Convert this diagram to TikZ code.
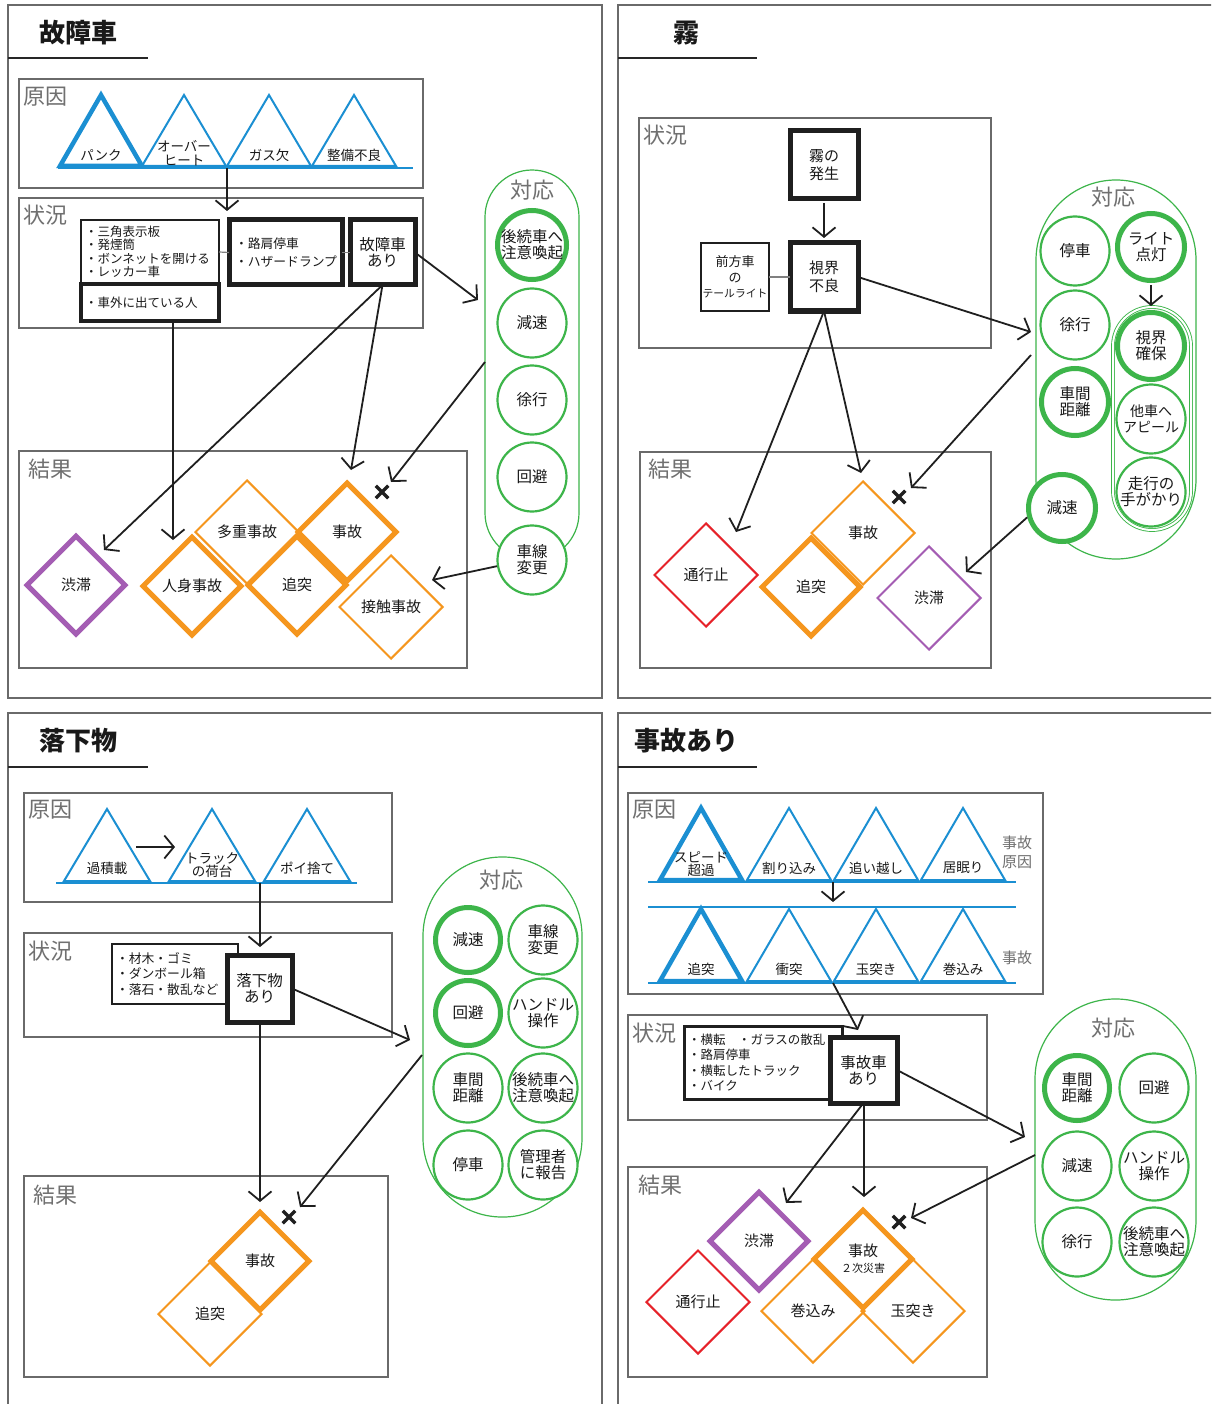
\documentclass[tikz,border=0pt]{standalone}
\usepackage{fontspec}
\setmainfont{Noto Sans CJK JP}
\usetikzlibrary{arrows.meta,shapes.geometric,shapes.misc,fit}

\definecolor{cblue}{HTML}{1B8FD2}
\definecolor{corange}{HTML}{F5961E}
\definecolor{cpurple}{HTML}{A45DB3}
\definecolor{cred}{HTML}{E62229}
\definecolor{cgreen}{HTML}{3DB54A}
\definecolor{cgrey}{HTML}{707070}
\definecolor{cframe}{HTML}{6A6A6A}

\newcommand{\jfs}[2]{\fontsize{#1}{#2}\selectfont}
% a blue "mountain" triangle: style, base centre x, base y, half width, height
\newcommand{\mountain}[5]{\draw[#1] (#2,#3) ++(-#4,0) -- ++(#4,-#5) -- ++(#4,#5) -- cycle;}

\tikzset{
  frame/.style={draw=cframe, line width=1.5},
  titlerule/.style={draw=black!85, line width=2},
  paneltitle/.style={font=\bfseries\jfs{26}{26}, text=black!90, inner sep=0},
  secbox/.style={draw=cframe, line width=1.2, inner sep=0},
  seclab/.style={font=\jfs{22}{22}, text=cgrey, inner sep=0},
  mount/.style={draw=cblue, line width=2, line join=miter},
  mountb/.style={draw=cblue, line width=4.5, line join=miter},
  ground/.style={draw=cblue, line width=2.5},
  mlab/.style={font=\jfs{13.5}{13.5}, align=center, inner sep=0, text=black!90},
  stbox/.style={draw=black!88, line width=2.5, inner sep=0, outer sep=0, align=left, fill=white, text=black!90},
  stboxb/.style={stbox, line width=5},
  link/.style={draw=gray, line width=1.2},
  resp/.style={circle, draw=cgreen, fill=white, line width=2.2, minimum size=69, inner sep=0, align=center, font=\jfs{15.5}{16}, text=black!90},
  respb/.style={resp, line width=5, minimum size=65},
  pill/.style={draw=cgreen, line width=1.2},
  res/.style={diamond, aspect=1, minimum size=104, inner sep=0, line width=2, align=center, font=\jfs{15}{16}, text=black!90},
  resb/.style={res, minimum size=100, line width=5},
  arr/.style={draw=black!88, line width=1.8, -{Straight Barb[length=9.5pt,width=23pt]}},
  nogo/.style={cross out, draw=black!88, line width=3.5, minimum size=9, inner sep=0},
}

\begin{document}
\begin{tikzpicture}[x=1pt,y=-1pt]
\path[use as bounding box] (0,0) rectangle (1211,1404);
\clip (0,0) rectangle (1211,1404);
\fill[white] (0,0) rectangle (1211,1404);

% ================= panel 1: broken-down vehicle =================
\draw[frame] (8,5) rectangle (602,698);
\node[paneltitle] (t1) at (78,33) {故障車};
\draw[titlerule] (8,58) -- (148,58);

\node[secbox, fit={(19,79) (423,188)}] (cause1) {};
\node[seclab] (cause1lab) at (45,97) {原因};
\mountain{mountb}{101}{166}{41}{71}
\mountain{mount}{184}{166}{42}{71}
\mountain{mount}{269}{166}{42}{71}
\mountain{mount}{354}{166}{42}{71}
\draw[ground] (58,168) -- (413,168);
\node[mlab] (m1a) at (101,155) {パンク};
\node[mlab] (m1b) at (184,153) {オーバー\\ヒート};
\node[mlab] (m1c) at (269,155) {ガス欠};
\node[mlab] (m1d) at (354,155) {整備不良};

\node[secbox, fit={(19,198) (423,328)}] (sit1) {};
\node[seclab] (sit1lab) at (45,215) {状況};
\node[stbox, anchor=north west, minimum width=138, minimum height=64, text width=130, font=\jfs{12.5}{13.5}] (boxA) at (81,220) {・三角表示板\\・発煙筒\\・ボンネットを開ける\\・レッカー車};
\node[stbox, line width=4.5, anchor=north west, minimum width=138, minimum height=37, text width=130, font=\jfs{12.5}{13.5}] (boxB) at (81,284) {・車外に出ている人};
\node[stboxb, anchor=north west, minimum width=113, minimum height=65, text width=101, font=\jfs{12.8}{18}] (boxC) at (229,220) {・路肩停車\\・ハザードランプ};
\node[stboxb, anchor=north west, minimum width=65, minimum height=65, align=center, font=\jfs{15.5}{16}] (boxD) at (350,220) {故障車\\あり};
\draw[link] (boxA.east) -- (boxC.west);
\draw[link] (boxC.east) -- (boxD.west);
\coordinate (c1out) at (227,168);
\coordinate (c1in) at (227,211);
\draw[arr] (c1out) -- (c1in);

\node[secbox, fit={(19,451) (467,668)}] (res1) {};
\node[seclab] (res1lab) at (50,469) {結果};

% responses
\draw[pill, rounded corners=47] (485,170) rectangle (579,560);
\node[seclab] (resp1lab) at (532,190) {対応};
\node[respb] (warn1) at (532,245) {後続車へ\\注意喚起};
\node[resp] (slow1) at (532,323) {減速};
\node[resp] (crawl1) at (532,400) {徐行};
\node[resp] (avoid1) at (532,477) {回避};
\node[resp] (lane1) at (532,560) {車線\\変更};

% results
\node[res, draw=corange] (multi1) at (247,532) {多重事故};
\node[res, draw=corange] (contact1) at (391,607) {接触事故};
\node[resb, draw=corange] (injury1) at (192,586) {人身事故};
\node[resb, draw=corange] (rear1) at (297,585) {追突};
\node[resb, draw=corange] (acc1) at (347,532) {事故};
\node[resb, draw=cpurple] (jam1) at (76,585) {渋滞};

\coordinate (p1in) at (478,300);
\draw[arr] (boxD.east) -- (p1in);
\coordinate (r1a) at (104,550);
\draw[arr] (boxD.south) -- (r1a);
\coordinate (r1b) at (351,470);
\draw[arr] (boxD.south) -- (r1b);
\coordinate (r1c) at (173,540);
\draw[arr] (boxB.south -| r1c) -- (r1c);
\coordinate (p1out) at (485,362);
\coordinate (r1d) at (391,482);
\draw[arr] (p1out) -- (r1d);
\node[nogo] (x1) at (382,492) {};
\coordinate (r1e) at (432,580);
\draw[arr] (lane1.190) -- (r1e);

% ================= panel 2: fog =================
\draw[frame] (618,5) rectangle (1230,698);
\node[paneltitle] (t2) at (686,33) {霧};
\draw[titlerule] (618,58) -- (757,58);

\node[secbox, fit={(639,118) (991,348)}] (sit2) {};
\node[seclab] (sit2lab) at (665,135) {状況};
\node[stboxb, minimum size=68, align=center, font=\jfs{15}{18}] (fog2) at (824,165) {霧の\\発生};
\node[stboxb, minimum size=68, align=center, font=\jfs{15}{18}] (vis2) at (824,277) {視界\\不良};
\node[stbox, line width=2, minimum size=68, align=center, font=\jfs{13}{15.5}] (tail2) at (735,277) {前方車\\の\\\jfs{10.8}{15.5}テールライト};
\draw[link] (tail2.east) -- (vis2.west);
\draw[arr, shorten <=4pt, shorten >=5pt] (fog2) -- (vis2);

\node[secbox, fit={(640,452) (991,668)}] (res2) {};
\node[seclab] (res2lab) at (670,469) {結果};

\draw[pill, rounded corners=80] (1036,180) rectangle (1196,559);
\node[seclab] (resp2lab) at (1113,197) {対応};
\draw[pill, double, double distance=2, line width=0.9, rounded corners=39] (1113,307) rectangle (1191,530);
\node[resp] (stop2) at (1075,251) {停車};
\node[respb, minimum size=67] (light2) at (1151,247) {ライト\\点灯};
\node[resp] (crawl2) at (1075,325) {徐行};
\node[respb, minimum size=67] (sight2) at (1151,346) {視界\\確保};
\node[respb, minimum size=67] (gap2) at (1075,402) {車間\\距離};
\node[resp, font=\jfs{14}{16}] (appeal2) at (1151,419) {他車へ\\アピール};
\node[resp] (cue2) at (1151,492) {走行の\\手がかり};
\node[respb, minimum size=67] (slow2) at (1062,508) {減速};
\draw[arr, shorten <=2pt, shorten >=4pt] (light2) -- (sight2);

\node[res, draw=cred] (closed2) at (706,575) {通行止};
\node[res, draw=corange] (acc2) at (863,533) {事故};
\node[res, draw=cpurple] (jam2) at (929,598) {渋滞};
\node[resb, draw=corange] (rear2) at (811,587) {追突};

\coordinate (p2in) at (1031,332);
\draw[arr] (vis2.east) -- (p2in);
\coordinate (r2a) at (736,532);
\draw[arr] (vis2.south) -- (r2a);
\coordinate (r2b) at (861,473);
\draw[arr] (vis2.south) -- (r2b);
\coordinate (p2out) at (1031,355);
\coordinate (r2c) at (911,488);
\draw[arr] (p2out) -- (r2c);
\node[nogo] (x2) at (899,497) {};
\coordinate (r2d) at (966,572);
\draw[arr] (slow2.195) -- (r2d);

% ================= panel 3: fallen objects =================
\draw[frame] (8,713) rectangle (602,1420);
\node[paneltitle] (t3) at (78,741) {落下物};
\draw[titlerule] (8,767) -- (148,767);

\node[secbox, fit={(24,793) (392,902)}] (cause3) {};
\node[seclab] (cause3lab) at (50,810) {原因};
\mountain{mount}{107}{881}{43}{72}
\mountain{mount}{212}{881}{43}{72}
\mountain{mount}{307}{881}{43}{72}
\draw[ground] (56,883) -- (357,883);
\node[mlab] (m3a) at (107,868) {過積載};
\node[mlab] (m3b) at (212,865) {トラック\\の荷台};
\node[mlab] (m3c) at (307,868) {ポイ捨て};
\coordinate (m3aout) at (136,847);
\coordinate (m3bin) at (175,847);
\draw[arr] (m3aout) -- (m3bin);

\node[secbox, fit={(24,933) (392,1037)}] (sit3) {};
\node[seclab] (sit3lab) at (50,951) {状況};
\node[stbox, anchor=north west, minimum width=126, minimum height=60, text width=118, font=\jfs{12.8}{15.5}] (list3) at (112,944) {・材木・ゴミ\\・ダンボール箱\\・落石・散乱など};
\node[stboxb, anchor=north west, minimum width=65, minimum height=67, align=center, font=\jfs{15.5}{16}] (fall3) at (227,955) {落下物\\あり};
\coordinate (c3out) at (260,883);
\draw[arr, shorten >=8pt] (c3out) -- (c3out |- fall3.north);

\node[secbox, fit={(24,1176) (388,1377)}] (res3) {};
\node[seclab] (res3lab) at (55,1195) {結果};
\node[res, draw=corange] (rear3) at (210,1314) {追突};
\node[resb, draw=corange] (acc3) at (260,1261) {事故};

\draw[pill, rounded corners=79] (423,857) rectangle (582,1217);
\node[seclab] (resp3lab) at (501,880) {対応};
\node[respb] (slow3) at (468,940) {減速};
\node[resp] (lane3) at (543,940) {車線\\変更};
\node[respb] (avoid3) at (468,1013) {回避};
\node[resp] (steer3) at (543,1013) {ハンドル\\操作};
\node[resp] (gap3) at (468,1088) {車間\\距離};
\node[resp] (warn3) at (543,1088) {後続車へ\\注意喚起};
\node[resp] (stop3) at (468,1165) {停車};
\node[resp] (report3) at (543,1165) {管理者\\に報告};

\coordinate (p3in) at (410,1040);
\draw[arr] (fall3.east) -- (p3in);
\coordinate (r3a) at (260,1202);
\draw[arr] (fall3.south -| r3a) -- (r3a);
\coordinate (p3out) at (422,1055);
\coordinate (r3b) at (300,1207);
\draw[arr] (p3out) -- (r3b);
\node[nogo] (x3) at (289,1217) {};

% ================= panel 4: accident ahead =================
\draw[frame] (618,713) rectangle (1230,1420);
\node[paneltitle] (t4) at (686,741) {事故あり};
\draw[titlerule] (618,767) -- (757,767);

\node[secbox, fit={(628,793) (1043,994)}] (cause4) {};
\node[seclab] (cause4lab) at (654,810) {原因};
\mountain{mountb}{701}{880}{41}{72}
\mountain{mount}{789}{880}{42}{72}
\mountain{mount}{876}{880}{42}{72}
\mountain{mount}{963}{880}{42}{72}
\draw[ground] (648,882) -- (1016,882);
\node[mlab] (m4a) at (701,864) {スピード\\超過};
\node[mlab] (m4b) at (789,868) {割り込み};
\node[mlab] (m4c) at (876,868) {追い越し};
\node[mlab] (m4d) at (963,868) {居眠り};
\node[seclab, font=\jfs{15}{19}, align=center] (cause4note) at (1017,852) {事故\\原因};
\coordinate (c4a) at (833,882);
\coordinate (c4b) at (833,902);
\draw[arr] (c4a) -- (c4b);
\draw[ground, line width=1.8] (648,907) -- (1016,907);
\mountain{mountb}{701}{981}{41}{72}
\mountain{mount}{789}{981}{42}{72}
\mountain{mount}{876}{981}{42}{72}
\mountain{mount}{963}{981}{42}{72}
\draw[ground] (648,983) -- (1016,983);
\node[mlab] (m4e) at (701,969) {追突};
\node[mlab] (m4f) at (789,969) {衝突};
\node[mlab] (m4g) at (876,969) {玉突き};
\node[mlab] (m4h) at (963,969) {巻込み};
\node[seclab, font=\jfs{15}{19}] (acc4note) at (1017,958) {事故};

\node[secbox, fit={(628,1015) (987,1120)}] (sit4) {};
\node[seclab] (sit4lab) at (654,1033) {状況};
\node[stbox, line width=3, anchor=north west, minimum width=158, minimum height=73, text width=150, font=\jfs{12.5}{15.5}] (list4) at (684,1026) {・横転\quad・ガラスの散乱\\・路肩停車\\・横転したトラック\\・バイク};
\node[stboxb, anchor=north west, minimum width=67, minimum height=66, align=center, font=\jfs{15.5}{16}] (crash4) at (830,1037) {事故車\\あり};
\coordinate (c4c) at (833,983);
\coordinate (c4d) at (858,1030);
\draw[arr] (c4c) -- (c4d);

\node[secbox, fit={(628,1167) (987,1377)}] (res4) {};
\node[seclab] (res4lab) at (660,1185) {結果};
\node[res, draw=cred] (closed4) at (698,1302) {通行止};
\node[res, draw=corange] (roll4) at (813,1311) {巻込み};
\node[res, draw=corange] (chain4) at (913,1311) {玉突き};
\node[resb, draw=cpurple] (jam4) at (759,1241) {渋滞};
\node[resb, draw=corange] (acc4) at (863,1259) {事故\\\jfs{11}{12}２次災害};

\draw[pill, rounded corners=80] (1035,999) rectangle (1196,1300);
\node[seclab] (resp4lab) at (1113,1028) {対応};
\node[respb] (gap4) at (1077,1088) {車間\\距離};
\node[resp] (avoid4) at (1154,1088) {回避};
\node[resp] (slow4) at (1077,1166) {減速};
\node[resp] (steer4) at (1154,1166) {ハンドル\\操作};
\node[resp] (crawl4) at (1077,1242) {徐行};
\node[resp] (warn4) at (1154,1242) {後続車へ\\注意喚起};

\coordinate (p4in) at (1025,1137);
\draw[arr] (crash4.east) -- (p4in);
\coordinate (r4a) at (786,1203);
\draw[arr] (crash4.south) -- (r4a);
\coordinate (r4b) at (864,1197);
\draw[arr] (crash4.south -| r4b) -- (r4b);
\coordinate (p4out) at (1035,1155);
\coordinate (r4c) at (911,1218);
\draw[arr] (p4out) -- (r4c);
\node[nogo] (x4) at (899,1222) {};
\end{tikzpicture}
\end{document}
